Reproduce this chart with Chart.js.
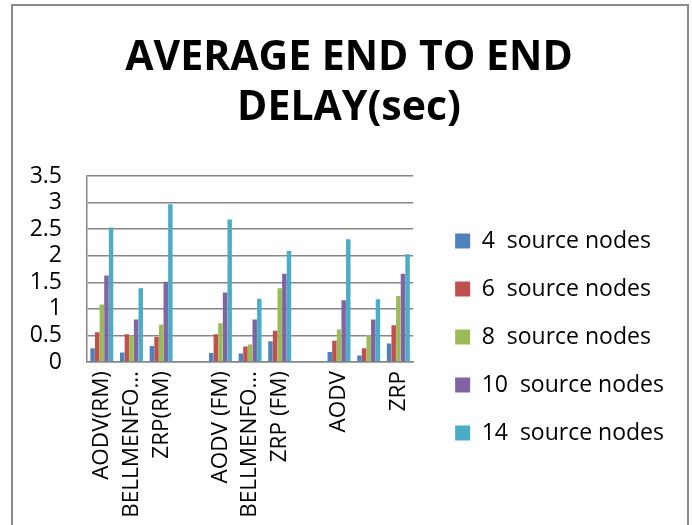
<!DOCTYPE html>
<html>
<head>
<meta charset="utf-8">
<title>Average End to End Delay</title>
<script src="https://cdn.jsdelivr.net/npm/chart.js@4/dist/chart.umd.min.js"></script>
<style>
  html, body { margin: 0; padding: 0; background: #fff; }
  canvas { display: block; }
</style>
</head>
<body>
<canvas id="chart" width="692" height="525"></canvas>
<script>
// Protocol categories (empty entries separate the RM, FM and plain groups)
const categories = ['AODV(RM)', 'BELLMENFO\u2026', 'ZRP(RM)', '', 'AODV (FM)', 'BELLMENFO\u2026', 'ZRP (FM)', '', 'AODV', '', 'ZRP'];

// Average end-to-end delay in seconds, one array per source-node count
const nodes4  = [0.26, 0.18, 0.30, null, 0.17, 0.16, 0.39, null, 0.19, 0.12, 0.35];
const nodes6  = [0.56, 0.52, 0.47, null, 0.52, 0.29, 0.59, null, 0.40, 0.26, 0.69];
const nodes8  = [1.08, 0.50, 0.70, null, 0.73, 0.33, 1.39, null, 0.61, 0.51, 1.24];
const nodes10 = [1.63, 0.80, 1.51, null, 1.31, 0.80, 1.66, null, 1.16, 0.80, 1.66];
const nodes14 = [2.53, 1.39, 2.97, null, 2.68, 1.19, 2.09, null, 2.31, 1.18, 2.03];

const seriesNames = ['4  source nodes', '6  source nodes', '8  source nodes', '10  source nodes', '14  source nodes'];
const yTickLabels = ['0', '0.5', '1', '1.5', '2', '2.5', '3', '3.5'];

const colors = ['#4F81BD', '#C0504D', '#9BBB59', '#8064A2', '#4BACC6'];
const seriesData = [nodes4, nodes6, nodes8, nodes10, nodes14];

const FONT = "'Open Sans', 'Liberation Sans', sans-serif";
const GRID = '#858585';

// White page with the grey frame around the whole chart
const frame = {
  id: 'frame',
  beforeDraw(chart) {
    const ctx = chart.ctx;
    ctx.save();
    ctx.fillStyle = '#ffffff';
    ctx.fillRect(0, 0, chart.width, chart.height);
    ctx.strokeStyle = '#8a8a8a';
    ctx.lineWidth = 2;
    ctx.strokeRect(12, 5, 676, chart.height + 10);
    ctx.restore();
  }
};

new Chart(document.getElementById('chart'), {
  type: 'bar',
  data: {
    labels: categories,
    datasets: seriesData.map((values, i) => ({
      label: seriesNames[i],
      data: values,
      backgroundColor: colors[i],
      borderWidth: 0,
      categoryPercentage: 0.78,
      barPercentage: 0.96
    }))
  },
  options: {
    responsive: false,
    animation: false,
    devicePixelRatio: 1,
    layout: { padding: { left: 24, right: 18, top: 0, bottom: 0 } },
    plugins: {
      title: {
        display: true,
        text: ['AVERAGE END TO END', 'DELAY(sec)'],
        color: '#000',
        font: { family: FONT, size: 41, weight: 'bold', lineHeight: 1.22 },
        padding: { top: 33, bottom: 43 }
      },
      legend: {
        position: 'right',
        align: 'center',
        maxWidth: 260,
        title: { display: true, text: ' ', font: { size: 10, lineHeight: 1 }, padding: { top: 139, bottom: 0 } },
        labels: {
          color: '#000',
          font: { family: FONT, size: 23 },
          boxWidth: 15,
          boxHeight: 15,
          padding: 25
        }
      },
      tooltip: { enabled: false }
    },
    scales: {
      x: {
        grid: { display: false, drawTicks: false },
        border: { display: true, color: GRID, width: 1.5 },
        ticks: {
          color: '#000',
          font: { family: FONT, size: 22.5 },
          autoSkip: false,
          minRotation: 90,
          maxRotation: 90,
          padding: 9
        },
        afterFit(scale) { scale.height = 163; }
      },
      y: {
        min: 0,
        max: 3.5,
        grid: { color: GRID, lineWidth: 1.5, drawTicks: false },
        border: { display: true, color: GRID, width: 1.5 },
        ticks: {
          stepSize: 0.5,
          autoSkip: false,
          color: '#000',
          font: { family: FONT, size: 23, lineHeight: 1 },
          padding: 25,
          callback(value, index) { return yTickLabels[index]; }
        },
        afterFit(scale) { scale.width = 63; }
      },
      gap: {
        position: 'right',
        display: true,
        grid: { display: false },
        border: { display: false },
        ticks: { display: false },
        afterFit(scale) { scale.width = 17; }
      }
    }
  },
  plugins: [frame]
});
</script>
</body>
</html>
